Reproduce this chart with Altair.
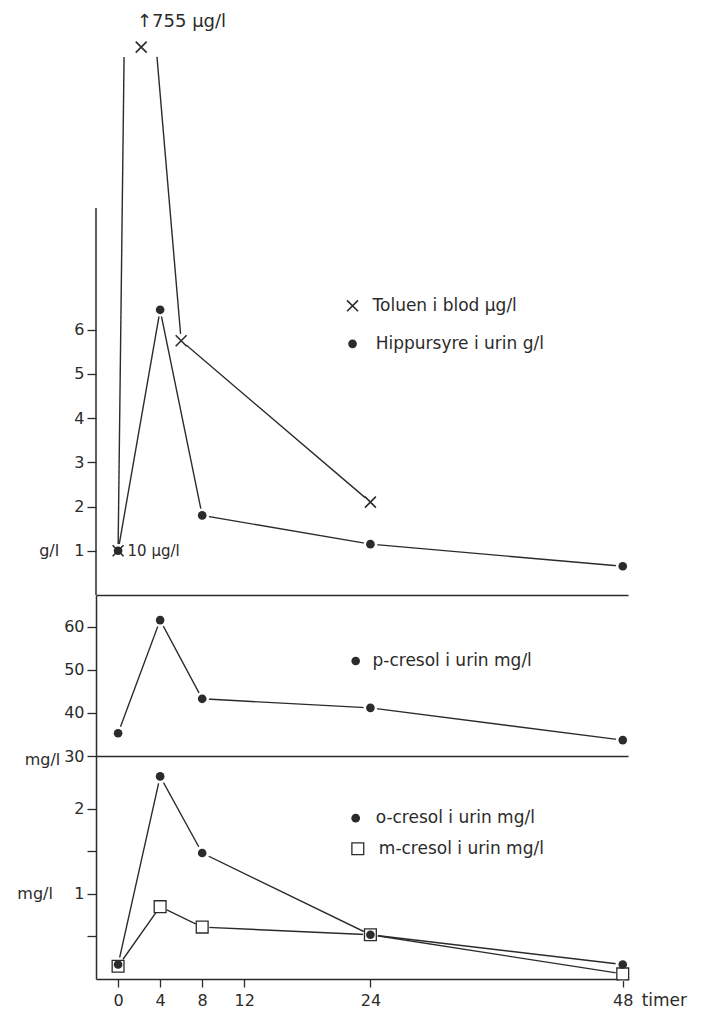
import altair as alt
import pandas as pd

# ---- data ----
hours = [0, 4, 8, 24, 48]
hippursyre = [1.0, 6.45, 1.8, 1.15, 0.65]      # g/l
p_cresol = [35.3, 61.6, 43.3, 41.2, 33.7]       # mg/l
o_cresol = [0.17, 2.38, 1.48, 0.52, 0.17]       # mg/l
m_cresol = [0.15, 0.85, 0.61, 0.52, 0.06]       # mg/l

# toluene in blood, plotted on the g/l position scale (off-scale peak)
toluen_hours = [0, 6, 24]
toluen_pos = [1.0, 5.75, 2.1]
toluen_peak_hour = [2.2]
toluen_peak_pos = [12.39]
toluen_line_hours = [0, 0.57, 3.7, 6, 24]
toluen_line_pos = [1.0, 12.17, 12.17, 5.75, 2.1]
toluen_line_seg = [0, 0, 1, 1, 1]

x_ticks = [0, 4, 8, 12, 24, 48]
top_ticks = [1, 2, 3, 4, 5, 6]
mid_ticks = [30, 40, 50, 60]
bot_ticks = [0.5, 1, 1.5, 2]

FONT = "DejaVu Sans"
INK = "#2b2b2b"
W = 532
CROSS = "M-1,-1L1,1M-1,1L1,-1"
xscale = alt.Scale(domain=[-2.1, 48.5], nice=False, zero=False)

sep_axis = alt.Axis(labels=False, ticks=False, domain=True, grid=False, title=None,
                    domainColor=INK, domainWidth=1.5)
bot_x_axis = alt.Axis(values=x_ticks, grid=False, title=None, domainColor=INK, domainWidth=1.5,
                      tickColor=INK, tickWidth=1.3, tickSize=8, labelFontSize=16,
                      labelFont=FONT, labelColor=INK, labelPadding=5)


def yaxis(values, domain, label_expr=None):
    kw = dict(values=values, domain=domain, grid=False, title=None, tickSize=9,
              tickColor=INK, tickWidth=1.3, domainColor=INK, domainWidth=1.5,
              labelFontSize=16, labelFont=FONT, labelColor=INK, labelPadding=3)
    if label_expr:
        kw["labelExpr"] = label_expr
    return alt.Axis(**kw)


def enc(xaxis, ydom, yax):
    return dict(
        x=alt.X("t:Q", scale=xscale, axis=xaxis),
        y=alt.Y("v:Q", scale=alt.Scale(domain=ydom, nice=False, zero=False), axis=yax),
    )


def series_df(xs, ys, name="s"):
    return pd.DataFrame({"t": xs, "v": ys, "s": name})


def text_layer(df, e, align="left"):
    return alt.Chart(df).mark_text(align=align, baseline="middle", font=FONT,
                                   color=INK).encode(**e, text="txt:N",
                                                     size=alt.Size("fs:Q", scale=None, legend=None))


# ---------------- top panel ----------------
top_dom = [0, 13.14]
te = enc(sep_axis, top_dom, yaxis(top_ticks, False))

hip = series_df(hours, hippursyre)
tol = series_df(toluen_hours, toluen_pos)
tol_line = pd.DataFrame({"t": toluen_line_hours, "v": toluen_line_pos, "seg": toluen_line_seg})
tol_peak = series_df(toluen_peak_hour, toluen_peak_pos)
axis_line = pd.DataFrame({"t": [-2.1], "v": [0.0], "v2": [8.75]})

top_texts_l = pd.DataFrame({
    "t": [1.8, 0.9, 24.2, 24.5],
    "v": [12.95, 1.0, 6.54, 5.68],
    "txt": ["↑755 μg/l", "10 μg/l", "Toluen i blod  μg/l", "Hippursyre i urin g/l"],
    "fs": [18, 15, 17, 17],
})
top_texts_r = pd.DataFrame({"t": [-5.6], "v": [1.0], "txt": ["g/l"], "fs": [16]})
top_leg_cross = series_df([22.3], [6.54])
top_leg_dot = series_df([22.3], [5.68])

top = alt.layer(
    alt.Chart(axis_line).mark_rule(color=INK, strokeWidth=1.5).encode(**te, y2="v2:Q"),
    alt.Chart(hip).mark_line(color=INK, strokeWidth=1.4).encode(**te),
    alt.Chart(tol_line).mark_line(color=INK, strokeWidth=1.4).encode(**te, detail="seg:N"),
    alt.Chart(pd.concat([hip, tol])).mark_point(filled=True, color="white", opacity=1, size=190).encode(**te),
    alt.Chart(hip).mark_circle(color=INK, opacity=1, size=75).encode(**te),
    alt.Chart(pd.concat([tol, tol_peak, top_leg_cross])).mark_point(
        shape=CROSS, filled=False, color=INK, size=120, strokeWidth=1.6, opacity=1).encode(**te),
    alt.Chart(top_leg_dot).mark_circle(color=INK, opacity=1, size=75).encode(**te),
    text_layer(top_texts_l, te, "left"),
    text_layer(top_texts_r, te, "right"),
).properties(width=W, height=581)

# ---------------- middle panel ----------------
mid_dom = [30, 67.44]
me = enc(sep_axis, mid_dom, yaxis(mid_ticks, True))
pc = series_df(hours, p_cresol)
mid_texts_l = pd.DataFrame({"t": [24.2], "v": [52.1], "txt": ["p-cresol i urin mg/l"], "fs": [17]})
mid_texts_r = pd.DataFrame({"t": [-5.5], "v": [29.0], "txt": ["mg/l"], "fs": [16]})
mid_leg_dot = series_df([22.6], [52.1])

mid = alt.layer(
    alt.Chart(pc).mark_line(color=INK, strokeWidth=1.4).encode(**me),
    alt.Chart(pc).mark_point(filled=True, color="white", opacity=1, size=190).encode(**me),
    alt.Chart(pd.concat([pc, mid_leg_dot])).mark_circle(color=INK, opacity=1, size=75).encode(**me),
    text_layer(mid_texts_l, me, "left"),
    text_layer(mid_texts_r, me, "right"),
).properties(width=W, height=161)

# ---------------- bottom panel ----------------
bot_dom = [0, 2.62]
be = enc(bot_x_axis, bot_dom,
         yaxis(bot_ticks, True, "datum.value % 1 == 0 ? format(datum.value, 'd') : ''"))
oc = series_df(hours, o_cresol)
mc = series_df(hours, m_cresol)
bot_texts_l = pd.DataFrame({
    "t": [24.5, 24.8, 49.8],
    "v": [1.89, 1.53, -0.26],
    "txt": ["o-cresol i urin mg/l", "m-cresol i urin mg/l", "timer"],
    "fs": [17, 17, 17],
})
bot_texts_r = pd.DataFrame({"t": [-6.2], "v": [1.0], "txt": ["mg/l"], "fs": [16]})
bot_leg_dot = series_df([22.6], [1.89])
bot_leg_sq = series_df([22.8], [1.53])

bot = alt.layer(
    alt.Chart(oc).mark_line(color=INK, strokeWidth=1.4).encode(**be),
    alt.Chart(mc).mark_line(color=INK, strokeWidth=1.4).encode(**be),
    alt.Chart(pd.concat([oc, mc])).mark_point(filled=True, color="white", opacity=1, size=210).encode(**be),
    alt.Chart(pd.concat([mc, bot_leg_sq])).mark_point(
        shape="square", filled=False, color=INK, size=140, strokeWidth=1.3, opacity=1).encode(**be),
    alt.Chart(pd.concat([oc, bot_leg_dot])).mark_circle(color=INK, opacity=1, size=75).encode(**be),
    text_layer(bot_texts_l, be, "left"),
    text_layer(bot_texts_r, be, "right"),
).properties(width=W, height=223)

chart = alt.vconcat(top, mid, bot, spacing=0, bounds="flush").properties(
    padding={"left": 9, "top": 5, "right": 5, "bottom": 5},
    background="white",
).configure_view(stroke=None)

chart.save("out.html", embed_options={"renderer": "svg", "actions": False})
